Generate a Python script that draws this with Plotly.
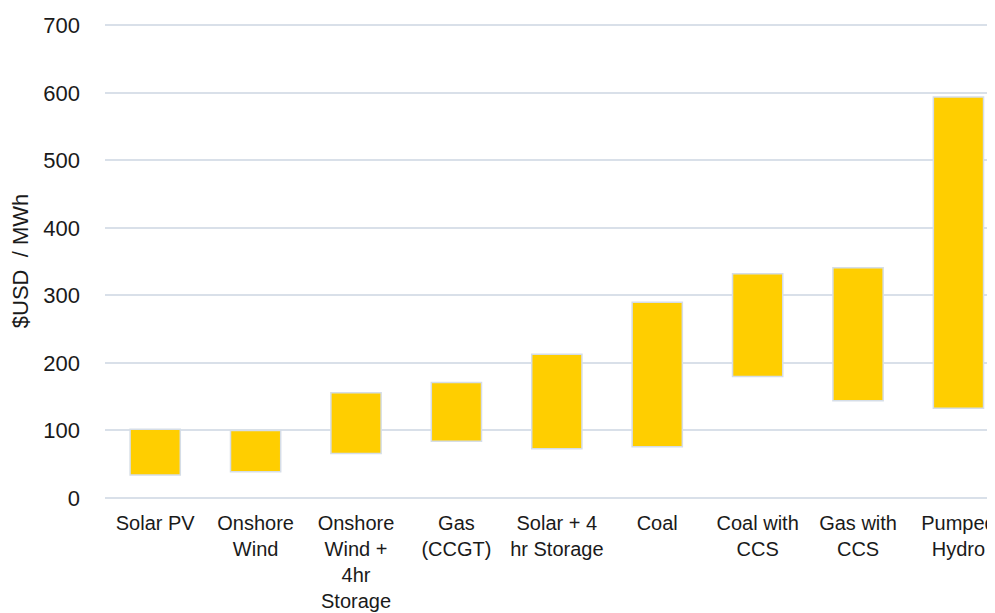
import plotly.graph_objects as go

# cost ranges per technology ($USD / MWh)
technologies = ["Solar PV", "Onshore Wind", "Onshore Wind + 4hr Storage", "Gas (CCGT)",
                "Solar + 4 hr Storage", "Coal", "Coal with CCS", "Gas with CCS", "Pumped Hydro"]
tick_labels = ["Solar PV", "Onshore<br>Wind", "Onshore<br>Wind +<br>4hr<br>Storage", "Gas<br>(CCGT)",
               "Solar + 4<br>hr Storage", "Coal", "Coal with<br>CCS", "Gas with<br>CCS", "Pumped<br>Hydro"]
low = [34, 39, 66, 84, 73, 76, 180, 144, 133]
high = [102, 100, 156, 171, 213, 290, 332, 341, 594]

FONT = "Liberation Sans, Arial, sans-serif"
GRID = "#D9E0E9"

fig = go.Figure(go.Bar(
    x=technologies,
    y=[h - l for h, l in zip(high, low)],
    base=low,
    width=0.5,
    marker={"color": "#FFCE00", "line": {"color": "#D5DDE7", "width": 1.5}},
    showlegend=False,
))

# page body has an 8px margin, so the figure is drawn 8px smaller and the
# right edge (with the clipped "Pumped Hydro" label) lands on the window edge
fig.update_layout(
    width=987, height=605,
    margin={"l": 97, "r": 0, "t": 16, "b": 115},
    plot_bgcolor="white", paper_bgcolor="white",
    font={"family": FONT, "size": 20, "color": "#1a1a1a"},
)
fig.update_xaxes(
    type="category", range=[-0.5, 8.364], automargin=False,
    tickvals=technologies, ticktext=tick_labels,
    showgrid=False, showline=False, ticks="",
    ticklabelstandoff=11,
    tickfont={"size": 20},
)
fig.update_yaxes(
    range=[0, 702], tickvals=[0, 100, 200, 300, 400, 500, 600, 700], automargin=False,
    showgrid=True, gridcolor=GRID, gridwidth=1.5,
    zeroline=True, zerolinecolor=GRID, zerolinewidth=2,
    ticks="", ticklabelstandoff=24,
    tickfont={"size": 22},
    title={"text": "$USD  / MWh", "font": {"size": 22}, "standoff": 8},
)

fig.write_html("out.html")
